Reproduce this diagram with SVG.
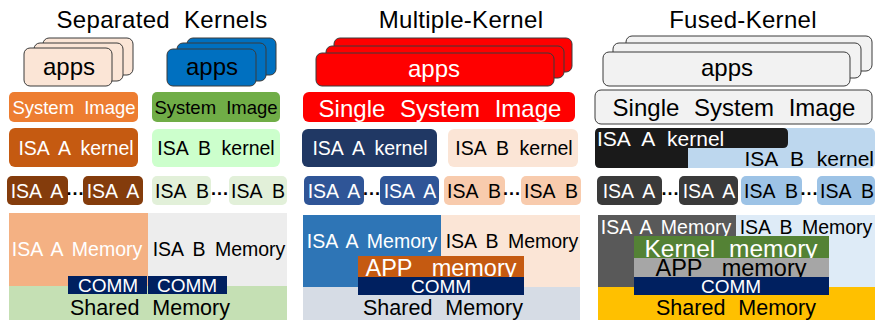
<svg xmlns="http://www.w3.org/2000/svg" width="875" height="325" viewBox="0 0 875 325">
  <style>
    text { font-family: "Liberation Sans", Arial, sans-serif; text-anchor: middle; }
    .title { font-size: 24px; fill: #000; letter-spacing: 0.3px; }
    .apps { font-size: 24px; }
    .f19 { font-size: 19.5px; word-spacing: 5px; }
    .f21 { font-size: 21px; word-spacing: 7px; }
    .f24 { font-size: 24px; word-spacing: 8px; }
    .w { fill: #fff; }
    .b { fill: #000; }
    .card { stroke: #3a3a3a; stroke-width: 1; }
    .dots { font-size: 18px; font-weight: bold; fill: #000; }
  </style>

  <!-- ===== Separated Kernels ===== -->
  <g id="sep-title"><text class="title" x="162" y="28" style="word-spacing:7px">Separated Kernels</text></g>

  <g id="sep-apps-a">
    <rect class="card" x="43" y="38" width="90" height="37" rx="6" fill="#FBE5D6"/>
    <rect class="card" x="34" y="43" width="89" height="38" rx="6" fill="#FBE5D6"/>
    <rect class="card" x="24" y="48" width="88" height="38" rx="6" fill="#FBE5D6"/>
    <text class="apps b" x="69" y="75">apps</text>
  </g>
  <g id="sep-apps-b">
    <rect class="card" x="187" y="38" width="89" height="37" rx="6" fill="#0070C0" stroke="#1F3864"/>
    <rect class="card" x="177" y="43" width="89" height="38" rx="6" fill="#0070C0" stroke="#1F3864"/>
    <rect class="card" x="167" y="49" width="89" height="37" rx="6" fill="#0070C0" stroke="#1F3864"/>
    <text class="apps b" x="212" y="75">apps</text>
  </g>
  <g id="sep-image-a">
    <rect x="9" y="92" width="129" height="30" rx="5" fill="#ED7D31"/>
    <text class="f19 w" x="74" y="114" style="font-size:18.5px">System Image</text>
  </g>
  <g id="sep-image-b">
    <rect x="152" y="92" width="128" height="30" rx="5" fill="#70AD47"/>
    <text class="f19 b" x="216" y="114" style="font-size:18.5px">System Image</text>
  </g>
  <g id="sep-kernel-a">
    <rect x="9" y="128" width="129" height="39" rx="6" fill="#C55A11"/>
    <text class="f19 w" x="76" y="155">ISA A kernel</text>
  </g>
  <g id="sep-kernel-b">
    <rect x="152" y="129" width="128" height="38" rx="6" fill="#CCFFCC"/>
    <text class="f19 b" x="216" y="155">ISA B kernel</text>
  </g>
  <g id="sep-core-a1"><rect x="7" y="176" width="61" height="29" rx="5" fill="#843C0C"/><text class="f19 w" x="37" y="198">ISA A</text></g>
  <g id="sep-core-a2"><rect x="83" y="176" width="60" height="29" rx="5" fill="#843C0C"/><text class="f19 w" x="113" y="198">ISA A</text></g>
  <g id="sep-core-b1"><rect x="152" y="176" width="59" height="29" rx="5" fill="#E2F0D9"/><text class="f19 b" x="182" y="198">ISA B</text></g>
  <g id="sep-core-b2"><rect x="229" y="176" width="58" height="29" rx="5" fill="#E2F0D9"/><text class="f19 b" x="258" y="198">ISA B</text></g>
  <g id="sep-memory">
    <rect x="9" y="213" width="139" height="73" fill="#F4B183"/>
    <rect x="148" y="213" width="139" height="73" fill="#EDEDED"/>
    <rect x="9" y="286" width="278" height="34" fill="#C5E0B4"/>
    <text class="f19 w" x="77" y="256" style="word-spacing:4px">ISA A Memory</text>
    <text class="f19 b" x="219" y="256" style="word-spacing:4px">ISA B Memory</text>
    <rect x="68" y="276" width="79" height="18" fill="#002060"/>
    <rect x="148" y="276" width="79" height="18" fill="#002060"/>
    <text class="f19 w" x="108" y="292" style="font-size:19px">COMM</text>
    <text class="f19 w" x="187" y="292" style="font-size:19px">COMM</text>
    <text class="f21 b" x="150" y="315" style="font-size:21.5px">Shared Memory</text>
  </g>

  <!-- ===== Multiple-Kernel ===== -->
  <g id="multi-title"><text class="title" x="461" y="28">Multiple-Kernel</text></g>
  <g id="multi-apps">
    <rect class="card" x="334" y="38" width="238" height="34" rx="6" fill="#FF0000"/>
    <rect class="card" x="326" y="46" width="238" height="32" rx="6" fill="#FF0000"/>
    <rect class="card" x="316" y="53" width="238" height="33" rx="6" fill="#FF0000"/>
    <text class="apps w" x="434" y="77">apps</text>
  </g>
  <g id="multi-image">
    <rect x="303" y="92" width="272" height="30" rx="6" fill="#FF0000"/>
    <text class="f24 w" x="440" y="117">Single System Image</text>
  </g>
  <g id="multi-kernel-a">
    <rect x="302" y="129" width="135" height="38" rx="6" fill="#203864"/>
    <text class="f19 w" x="370" y="155">ISA A kernel</text>
  </g>
  <g id="multi-kernel-b">
    <rect x="448" y="129" width="130" height="38" rx="6" fill="#FBE5D6"/>
    <text class="f19 b" x="514" y="155">ISA B kernel</text>
  </g>
  <g id="multi-core-a1"><rect x="304" y="176" width="60" height="29" rx="5" fill="#2F5597"/><text class="f19 w" x="334" y="198">ISA A</text></g>
  <g id="multi-core-a2"><rect x="380" y="176" width="59" height="29" rx="5" fill="#2F5597"/><text class="f19 w" x="410" y="198">ISA A</text></g>
  <g id="multi-core-b1"><rect x="444" y="176" width="61" height="29" rx="5" fill="#F8CBAD"/><text class="f19 b" x="474" y="198">ISA B</text></g>
  <g id="multi-core-b2"><rect x="521" y="176" width="60" height="29" rx="5" fill="#F8CBAD"/><text class="f19 b" x="551" y="198">ISA B</text></g>
  <g id="multi-memory">
    <rect x="303" y="215" width="138" height="72" fill="#2E75B6"/>
    <rect x="441" y="215" width="139" height="72" fill="#FBE5D6"/>
    <rect x="303" y="287" width="277" height="33" fill="#D6DCE5"/>
    <text class="f19 w" x="372" y="248" style="word-spacing:4px">ISA A Memory</text>
    <text class="f19 b" x="512" y="248" style="word-spacing:4px">ISA B Memory</text>
    <rect x="358" y="256" width="166" height="21" fill="#C55A11"/>
    <text class="f24 w" x="441" y="276" style="font-size:23.5px;word-spacing:13px">APP memory</text>
    <rect x="358" y="277" width="166" height="18" fill="#002060"/>
    <text class="f19 w" x="441" y="293" style="font-size:19px">COMM</text>
    <text class="f21 b" x="443" y="315" style="font-size:21.5px">Shared Memory</text>
  </g>

  <!-- ===== Fused-Kernel ===== -->
  <g id="fused-title"><text class="title" x="743" y="28">Fused-Kernel</text></g>
  <g id="fused-apps">
    <rect class="card" x="626" y="36" width="246" height="35" rx="6" fill="#F2F2F2"/>
    <rect class="card" x="613" y="43" width="248" height="35" rx="6" fill="#F2F2F2"/>
    <rect class="card" x="603" y="52" width="247" height="34" rx="6" fill="#F2F2F2"/>
    <text class="apps b" x="727" y="76">apps</text>
  </g>
  <g id="fused-image">
    <rect class="card" x="595" y="90" width="277" height="34" rx="6" fill="#F2F2F2"/>
    <text class="f24 b" x="734" y="116">Single System Image</text>
  </g>
  <g id="fused-kernel">
    <rect x="595" y="128" width="280" height="40" rx="5" fill="#BDD7EE"/>
    <path d="M600,128 H783 Q788,128 788,133 V143 Q788,148 783,148 H688 V168 H600 Q595,168 595,163 V133 Q595,128 600,128 Z" fill="#1A1A1A"/>
    <text class="f21 w" x="597" y="146" style="text-anchor:start">ISA A kernel</text>
    <text class="f21 b" x="874" y="166" style="text-anchor:end">ISA B kernel</text>
  </g>
  <g id="fused-core-a1"><rect x="597" y="176" width="65" height="29" rx="5" fill="#3A3A3A"/><text class="f19 w" x="629" y="198">ISA A</text></g>
  <g id="fused-core-a2"><rect x="679" y="176" width="59" height="29" rx="5" fill="#3A3A3A"/><text class="f19 w" x="709" y="198">ISA A</text></g>
  <g id="fused-core-b1"><rect x="741" y="176" width="61" height="29" rx="5" fill="#9DC3E6"/><text class="f19 b" x="771" y="198">ISA B</text></g>
  <g id="fused-core-b2"><rect x="817" y="176" width="58" height="29" rx="5" fill="#9DC3E6"/><text class="f19 b" x="847" y="198">ISA B</text></g>
  <g id="fused-memory">
    <rect x="598" y="215" width="138" height="72" fill="#595959"/>
    <rect x="736" y="215" width="139" height="72" fill="#DEEBF7"/>
    <rect x="598" y="287" width="277" height="33" fill="#FFC000"/>
    <text class="f19 w" x="666" y="234" style="word-spacing:4px">ISA A Memory</text>
    <text class="f19 b" x="806" y="234" style="word-spacing:4px">ISA B Memory</text>
    <rect x="634" y="236" width="195" height="22" fill="#548235"/>
    <text class="f24 w" x="731" y="257" style="font-size:24.5px;word-spacing:7px">Kernel memory</text>
    <rect x="634" y="258" width="195" height="19" fill="#A6A6A6"/>
    <text class="f24 b" x="731" y="276" style="font-size:23.5px;word-spacing:13px">APP memory</text>
    <rect x="634" y="277" width="195" height="18" fill="#002060"/>
    <text class="f19 w" x="731" y="293" style="font-size:19px">COMM</text>
    <text class="f21 b" x="736" y="315" style="font-size:21.5px">Shared Memory</text>
  </g>

  <!-- ellipsis marks between core boxes -->
  <g id="links">
    <text class="dots" x="75.5" y="200">···</text>
    <text class="dots" x="220" y="200">···</text>
    <text class="dots" x="372" y="200">···</text>
    <text class="dots" x="512" y="200">···</text>
    <text class="dots" x="670.5" y="200">···</text>
    <text class="dots" x="809.5" y="200">···</text>
  </g>
</svg>
